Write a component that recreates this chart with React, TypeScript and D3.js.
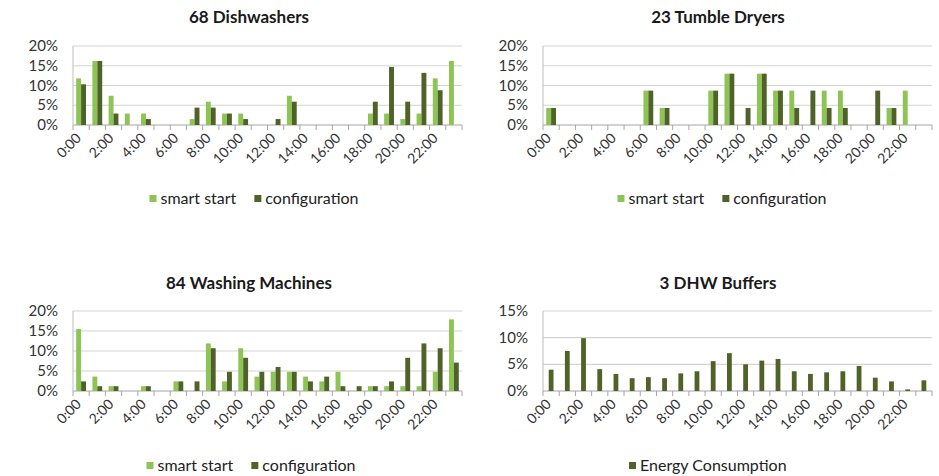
import React from "react";
import * as d3 from "d3";

const hours: string[] = Array.from({ length: 24 }, (_, i) => `${i}:00`);
const hourLabels = ["0:00","2:00","4:00","6:00","8:00","10:00","12:00","14:00","16:00","18:00","20:00","22:00"];

// Dishwashers (%)
const dwSmart = [11.8,16.2,7.4,2.9,2.9,0,0,1.5,5.9,2.9,2.9,0,0,7.4,0,0,0,0,2.9,2.9,1.5,2.9,11.8,16.2];
const dwConfig = [10.3,16.2,2.9,0,1.5,0,0,4.4,4.4,2.9,1.5,0,1.5,5.9,0,0,0,0,5.9,14.7,5.9,13.2,8.8,0];
// Tumble dryers (%)
const tdSmart = [4.3,0,0,0,0,0,8.7,4.3,0,0,8.7,13.0,0,13.0,8.7,8.7,0,8.7,8.7,0,0,4.3,8.7,0];
const tdConfig = [4.3,0,0,0,0,0,8.7,4.3,0,0,8.7,13.0,4.3,13.0,8.7,4.3,8.7,4.3,4.3,0,8.7,4.3,0,0];
// Washing machines (%)
const wmSmart = [15.5,3.6,1.2,0,1.2,0,2.4,0,11.9,2.4,10.7,3.6,4.8,4.8,3.6,2.4,4.8,0,1.2,1.2,1.2,1.2,4.8,17.9];
const wmConfig = [2.4,1.2,1.2,0,1.2,0,2.4,2.4,10.7,4.8,8.3,4.8,6.0,4.8,2.4,3.6,1.2,1.2,1.2,2.4,8.3,11.9,10.7,7.1];
// DHW buffers energy consumption (%)
const dhwEnergy = [4.0,7.5,9.9,4.1,3.2,2.4,2.6,2.4,3.3,3.7,5.6,7.1,5.0,5.7,6.0,3.7,3.2,3.5,3.7,4.7,2.5,1.8,0.3,2.0];

const seriesNames2 = ["smart start", "configuration"];
const seriesNames1 = ["Energy Consumption"];
const LIGHT = "#8dc455";
const DARK = "#4f6228";
const FONT = "Lato, 'Open Sans', sans-serif";
const LEGEND_SIZE = 16;

function measure(text: string, size: number): number {
  if (typeof document === "undefined") return text.length * size * 0.45;
  const c = document.createElement("canvas").getContext("2d");
  if (!c) return text.length * size * 0.45;
  c.font = `${size}px Lato, 'Open Sans', sans-serif`;
  return c.measureText(text).width;
}

type PanelProps = {
  title: string;
  series: number[][];
  names: string[];
  colors: string[];
  yMax: number;
  x0: number; x1: number; yTop: number; yBot: number;
  legendY: number; titleY: number; legendCx: number; titleCx: number;
};

function Panel({ title, series, names, colors, yMax, x0, x1, yTop, yBot, legendY, titleY, legendCx, titleCx }: PanelProps) {
  const x = d3.scaleBand<string>().domain(hours).range([x0, x1]).padding(0);
  const y = d3.scaleLinear().domain([0, yMax]).range([yBot, yTop]);
  const ticks = d3.range(0, yMax + 0.001, 5);
  const groupW = names.length > 1 ? 9.8 : 4.8;
  const inner = d3.scaleBand<number>().domain(series.map((_, i) => i)).range([0, groupW]).padding(0);
  const bw = inner.bandwidth();
  const gap = 18;
  const itemW = names.map((n) => 11 + measure(n, LEGEND_SIZE));
  const total = itemW.reduce((a, b) => a + b, 0) + gap * (names.length - 1);
  let lx = legendCx - total / 2;
  const legendItems = names.map((n, i) => {
    const item = { n, x: lx, c: colors[i] };
    lx += itemW[i] + gap;
    return item;
  });
  return (
    <g fontFamily={FONT}>
      <text x={titleCx} y={titleY} textAnchor="middle" fontWeight="bold" fontSize={17} fill="#1a1a1a">{title}</text>
      {ticks.map((t) => (
        <g key={t}>
          <line x1={x0} x2={x1} y1={y(t)} y2={y(t)} stroke={t === 0 ? "#a6a6a6" : "#d4d4d4"} strokeWidth={1.2} />
          <text x={x0 - 15} y={y(t) + 5} textAnchor="end" fontSize={15} fill="#333">{`${t}%`}</text>
        </g>
      ))}
      <line x1={x0} x2={x0} y1={yTop} y2={yBot} stroke="#bdbdbd" strokeWidth={1} />
      {hours.map((h) => (
        <line key={h} x1={x(h)! + x.bandwidth()} x2={x(h)! + x.bandwidth()} y1={yBot} y2={yBot + 5} stroke="#a6a6a6" />
      ))}
      <line x1={x0} x2={x0} y1={yBot} y2={yBot + 5} stroke="#a6a6a6" />
      {series.map((vals, si) =>
        vals.map((v, i) =>
          v > 0 ? (
            <rect
              key={`${si}-${i}`}
              x={x(hours[i])! + x.bandwidth() / 2 - groupW / 2 + inner(si)!}
              y={y(v)}
              width={bw}
              height={yBot - y(v)}
              fill={colors[si]}
            />
          ) : null
        )
      )}
      {hourLabels.map((h) => {
        const cx = x(h)! + x.bandwidth() / 2;
        return (
          <text key={h} transform={`translate(${cx + 1},${yBot + 14}) rotate(-45)`} textAnchor="end" fontSize={14} fill="#333">{h}</text>
        );
      })}
      {legendItems.map((it) => (
        <g key={it.n}>
          <rect x={it.x} y={legendY - 9} width={7} height={7} fill={it.c} />
          <text x={it.x + 11} y={legendY} fontSize={LEGEND_SIZE} fill="#222">{it.n}</text>
        </g>
      ))}
    </g>
  );
}

export default function App() {
  return (
    <svg width={939} height={476} style={{ position: "absolute", left: 0, top: 0, background: "#fff" }}>
      <rect width={939} height={476} fill="#fff" />
      <Panel title="68 Dishwashers" series={[dwSmart, dwConfig]} names={seriesNames2} colors={[LIGHT, DARK]} yMax={20}
        x0={73} x1={462} yTop={46} yBot={125} legendY={204} titleY={23} legendCx={254} titleCx={249} />
      <Panel title="23 Tumble Dryers" series={[tdSmart, tdConfig]} names={seriesNames2} colors={[LIGHT, DARK]} yMax={20}
        x0={543} x1={932} yTop={46} yBot={125} legendY={204} titleY={23} legendCx={722} titleCx={718} />
      <Panel title="84 Washing Machines" series={[wmSmart, wmConfig]} names={seriesNames2} colors={[LIGHT, DARK]} yMax={20}
        x0={73} x1={462} yTop={311} yBot={391} legendY={471} titleY={289} legendCx={251} titleCx={249} />
      <Panel title="3 DHW Buffers" series={[dhwEnergy]} names={seriesNames1} colors={[DARK]} yMax={15}
        x0={543} x1={932} yTop={311} yBot={391} legendY={471} titleY={289} legendCx={708} titleCx={718} />
    </svg>
  );
}
